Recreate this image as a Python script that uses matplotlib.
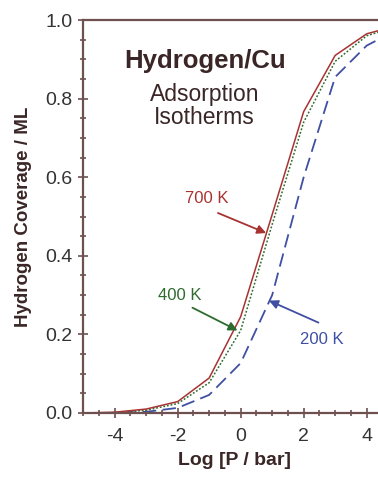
import numpy as np
import matplotlib.pyplot as plt
from matplotlib.ticker import MultipleLocator

# Adsorption isotherms of hydrogen on Cu, coverage vs log pressure
log_p = [-5, -4, -3, -2, -1, 0, 1, 2, 3, 4, 4.6]
cov_700 = [0.0, 0.002, 0.01, 0.029, 0.089, 0.245, 0.505, 0.767, 0.91, 0.965, 0.978]
cov_400 = [0.0, 0.001, 0.007, 0.024, 0.077, 0.21, 0.48, 0.74, 0.895, 0.96, 0.975]
cov_200 = [0.0, 0.0, 0.003, 0.013, 0.046, 0.127, 0.30, 0.60, 0.855, 0.935, 0.96]

# curve labels: text position, arrow tail, arrow tip
labels = ['700 K', '400 K', '200 K']
label_xy = [(-1.07, 0.547), (-1.92, 0.299), (2.57, 0.187)]
tail_xy = [(-0.72, 0.509), (-1.53, 0.268), (2.47, 0.23)]
tip_xy = [(0.81, 0.458), (-0.1, 0.21), (0.9, 0.286)]

red = '#a83232'
green = '#2e6b2e'
blue = '#3f4fa3'
axis_col = '#6e5050'
text_col = '#3a2626'

plt.rcParams['font.family'] = ['Liberation Sans', 'DejaVu Sans']

fig = plt.figure(figsize=(3.78, 4.78), dpi=100)
ax = fig.add_axes([0.22, 0.136, 0.80, 0.822])

ax.plot(log_p, cov_200, color=blue, lw=1.3, dashes=(7.5, 3.5))
ax.plot(log_p, cov_400, color=green, lw=1.1, linestyle=(0, (1.2, 1.2)))
ax.plot(log_p, cov_700, color=red, lw=1.1)

ax.set_xlim(-5, 4.6)
ax.set_ylim(0, 1.0)
ax.xaxis.set_major_locator(MultipleLocator(2))
ax.xaxis.set_minor_locator(MultipleLocator(0.5))
ax.yaxis.set_major_locator(MultipleLocator(0.2))
ax.yaxis.set_minor_locator(MultipleLocator(0.05))
ax.tick_params(which='both', direction='inout', colors=axis_col, labelcolor='#333333',
               labelsize=14, width=1.2)
ax.tick_params(which='major', length=7)
ax.tick_params(which='minor', length=4)
ax.tick_params(axis='x', which='major', pad=7)
ax.tick_params(axis='y', which='major', pad=4)
ax.set_xticks([-4, -2, 0, 2, 4])
ax.set_xticklabels(['-4', '-2', '0', '2', '4'])
ax.set_yticklabels(['%.1f' % v for v in ax.get_yticks()])

for side in ['left', 'bottom', 'top']:
    ax.spines[side].set_color(axis_col)
    ax.spines[side].set_linewidth(1.6)
ax.spines['right'].set_visible(False)

ax.set_xlabel('Log [P / bar]', fontsize=14, fontweight='bold', color=text_col, labelpad=5)
ax.set_ylabel('Hydrogen Coverage / ML', fontsize=13.5, fontweight='bold', color=text_col, labelpad=10)

ax.text(-1.14, 0.896, 'Hydrogen/Cu', fontsize=18.5, fontweight='bold', color=text_col,
        ha='center', va='center')
ax.text(-1.14, 0.782, 'Adsorption\nIsotherms', fontsize=16.5, color=text_col,
        ha='center', va='center', linespacing=1.0)

for lab, lxy, txy, pxy, col in zip(labels, label_xy, tail_xy, tip_xy, [red, green, blue]):
    ax.text(lxy[0], lxy[1], lab, fontsize=12, color=col, ha='center', va='center')
    ax.annotate('', xy=pxy, xytext=txy,
                arrowprops=dict(arrowstyle='-|>', color=col, lw=1.3, mutation_scale=13,
                                shrinkA=0, shrinkB=0))

fig.savefig('out.png', dpi=100)
